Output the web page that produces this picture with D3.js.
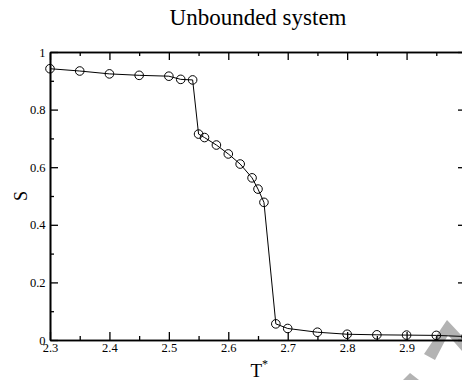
<!DOCTYPE html>
<html>
<head>
<meta charset="utf-8">
<script src="https://cdn.jsdelivr.net/npm/d3@7/dist/d3.min.js"></script>
<style>
  html, body { margin: 0; padding: 0; background: #fff; }
  svg { display: block; }
  svg text { font-family: "Liberation Serif", "Times New Roman", Times, "DejaVu Serif", serif; fill: #000; }
</style>
</head>
<body>
<svg id="chart" width="462" height="380"></svg>
<script>
// Order parameter S versus reduced temperature T*
const temperature = [2.3, 2.35, 2.4, 2.45, 2.5, 2.52, 2.54, 2.55, 2.56, 2.58, 2.6,
                     2.62, 2.64, 2.65, 2.66, 2.68, 2.7, 2.75, 2.8, 2.85, 2.9, 2.95, 3.0];
const orderS = [0.942, 0.934, 0.924, 0.919, 0.916, 0.905, 0.903, 0.715, 0.703, 0.677, 0.646,
                0.611, 0.563, 0.524, 0.478, 0.056, 0.040, 0.027, 0.020, 0.018, 0.017, 0.016, 0.012];

const xMajorTicks = [2.3, 2.4, 2.5, 2.6, 2.7, 2.8, 2.9, 3.0];
const xMinorTicks = [2.35, 2.45, 2.55, 2.65, 2.75, 2.85, 2.95];
const yMajorTicks = [0, 0.2, 0.4, 0.6, 0.8, 1];
const yMinorTicks = [0.1, 0.3, 0.5, 0.7, 0.9];

const titleText = "Unbounded system";
const xLabel = "T";
const xLabelSup = "*";
const yLabel = "S";

const serif = '"Liberation Serif", "Times New Roman", Times, "DejaVu Serif", serif';

const svg = d3.select("#chart");
const frame = { left: 50, right: 466, top: 52, bottom: 340 };

const x = d3.scaleLinear().domain([2.3, 3.0]).range([frame.left, frame.right]);
const y = d3.scaleLinear().domain([0, 1]).range([frame.bottom, frame.top]);
const fmt = d3.format("~g");
// the 3.0 label falls beyond the window's right edge, so it stays blank
const xFmt = d => (d < 2.99 ? fmt(d) : "");

function styleAxis(g) {
  g.attr("font-family", serif);
  g.selectAll("path.domain").attr("stroke", "#000").attr("stroke-width", 1.6);
  g.selectAll(".tick line").attr("stroke", "#000").attr("stroke-width", 1.3);
  g.selectAll(".tick text")
    .style("font-family", serif)
    .style("font-size", "12.5px")
    .attr("fill", "#000");
}

// Corner mark (light grey chevron)
svg.append("polygon")
  .attr("points", "424,354 447,320 462,336 462,351 448,335 435,360")
  .attr("fill", "#b3b3b3");
svg.append("polygon")
  .attr("points", "403,380 410,373 419,380")
  .attr("fill", "#b3b3b3");

// Minor ticks (inward)
svg.append("g").attr("transform", `translate(0,${frame.bottom})`)
  .call(d3.axisBottom(x).tickValues(xMinorTicks).tickSize(-4).tickSizeOuter(0).tickFormat(""))
  .call(styleAxis);
svg.append("g").attr("transform", `translate(0,${frame.top})`)
  .call(d3.axisTop(x).tickValues(xMinorTicks).tickSize(-4).tickSizeOuter(0).tickFormat(""))
  .call(styleAxis);
svg.append("g").attr("transform", `translate(${frame.left},0)`)
  .call(d3.axisLeft(y).tickValues(yMinorTicks).tickSize(-4).tickSizeOuter(0).tickFormat(""))
  .call(styleAxis);
svg.append("g").attr("transform", `translate(${frame.right},0)`)
  .call(d3.axisRight(y).tickValues(yMinorTicks).tickSize(-4).tickSizeOuter(0).tickFormat(""))
  .call(styleAxis);

// Major ticks with labels on bottom and left
svg.append("g").attr("transform", `translate(0,${frame.bottom})`)
  .call(d3.axisBottom(x).tickValues(xMajorTicks).tickSize(-8).tickSizeOuter(0).tickPadding(3).tickFormat(xFmt))
  .call(styleAxis);
svg.append("g").attr("transform", `translate(0,${frame.top})`)
  .call(d3.axisTop(x).tickValues(xMajorTicks).tickSize(-8).tickSizeOuter(0).tickFormat(""))
  .call(styleAxis);
svg.append("g").attr("transform", `translate(${frame.left},0)`)
  .call(d3.axisLeft(y).tickValues(yMajorTicks).tickSize(-8).tickSizeOuter(0).tickPadding(4.5).tickFormat(fmt))
  .call(styleAxis);
svg.append("g").attr("transform", `translate(${frame.right},0)`)
  .call(d3.axisRight(y).tickValues(yMajorTicks).tickSize(-8).tickSizeOuter(0).tickFormat(""))
  .call(styleAxis);

// Data line and open circle markers
const pts = temperature.map((t, i) => [t, orderS[i]]);
svg.append("path")
  .datum(pts)
  .attr("fill", "none")
  .attr("stroke", "#000")
  .attr("stroke-width", 1)
  .attr("d", d3.line().x(d => x(d[0])).y(d => y(d[1])));
svg.append("g").selectAll("circle")
  .data(pts)
  .join("circle")
  .attr("cx", d => x(d[0]))
  .attr("cy", d => y(d[1]))
  .attr("r", 4.3)
  .attr("fill", "none")
  .attr("stroke", "#000")
  .attr("stroke-width", 1);

// Title and axis labels
svg.append("text")
  .attr("x", (frame.left + frame.right) / 2)
  .attr("y", 25)
  .attr("text-anchor", "middle")
  .style("font-family", serif)
  .style("font-size", "23px")
  .text(titleText);

const xl = svg.append("text")
  .attr("x", 250.5)
  .attr("y", 377)
  .style("font-family", serif)
  .style("font-size", "19px")
  .text(xLabel);
xl.append("tspan")
  .attr("dy", "-0.75em")
  .style("font-size", "12px")
  .text(xLabelSup);

svg.append("text")
  .attr("transform", `translate(27,${(frame.top + frame.bottom) / 2}) rotate(-90)`)
  .attr("text-anchor", "middle")
  .style("font-family", serif)
  .style("font-size", "18px")
  .text(yLabel);
</script>
</body>
</html>
